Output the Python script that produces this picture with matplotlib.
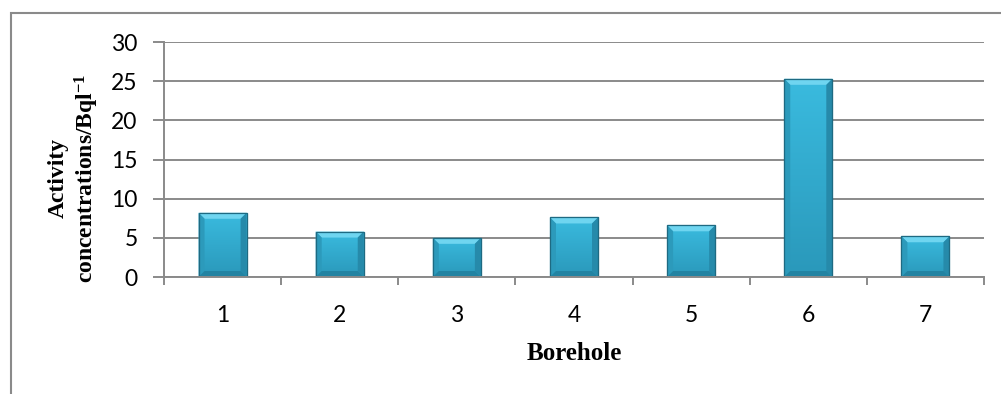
import numpy as np
import matplotlib
matplotlib.use("Agg")
import matplotlib.pyplot as plt
from matplotlib.patches import Polygon, Rectangle
from matplotlib.colors import LinearSegmentedColormap

# Activity concentration per borehole (Bq/l)
boreholes = ["1", "2", "3", "4", "5", "6", "7"]
activity = [8.2, 5.8, 5.0, 7.6, 6.6, 25.3, 5.2]
yticks = [0, 5, 10, 15, 20, 25, 30]

plt.rcParams["mathtext.fontset"] = "custom"
plt.rcParams["mathtext.rm"] = "Liberation Serif:bold"
plt.rcParams["mathtext.default"] = "rm"

W, H = 1001, 394
fig = plt.figure(figsize=(W / 100, H / 100), dpi=100)
fig.patch.set_facecolor("white")


def fy(py):
    return 1 - py / H


grey = "#8A8A8A"
ax = fig.add_axes([164 / W, fy(277), (984 - 164) / W, (277 - 42) / H])
x = np.arange(len(boreholes))
bar_w = 0.41
bars = ax.bar(x, activity, width=bar_w, color="#33B0D3", edgecolor="#1F6E86",
              linewidth=0.8, zorder=2)

# vertical gradient on each bar face, plus bevelled edges
face = LinearSegmentedColormap.from_list("face", ["#2A98BA", "#3ABBDF"])
grad = np.linspace(0, 1, 256).reshape(-1, 1)
ax.set_xlim(-0.5, len(boreholes) - 0.5)
ax.set_ylim(0, 30)
fig.canvas.draw()
bb = ax.get_window_extent()
ux = bb.width / (len(boreholes))      # px per x unit
uy = bb.height / 30.0                 # px per y unit
bev = 6.0
dx, dy = bev / ux, bev / uy
for b in bars:
    x0, w, h = b.get_x(), b.get_width(), b.get_height()
    x1 = x0 + w
    im = ax.imshow(grad, extent=[x0, x1, 0, h], origin="lower", cmap=face,
                   aspect="auto", zorder=2.1)
    im.set_clip_path(b)
    # top bevel (light)
    ax.add_patch(Polygon([[x0, h], [x1, h], [x1 - dx, h - dy], [x0 + dx, h - dy]],
                         closed=True, fc="#6FD5F0", ec="none", zorder=2.2))
    # left / right bevels
    ax.add_patch(Polygon([[x0, 0], [x0, h], [x0 + dx, h - dy], [x0 + dx, dy]],
                         closed=True, fc="#2C9ABB", ec="none", zorder=2.2))
    ax.add_patch(Polygon([[x1, 0], [x1, h], [x1 - dx, h - dy], [x1 - dx, dy]],
                         closed=True, fc="#268AAA", ec="none", zorder=2.2))
    # bottom bevel
    ax.add_patch(Polygon([[x0, 0], [x1, 0], [x1 - dx, dy], [x0 + dx, dy]],
                         closed=True, fc="#2283A2", ec="none", zorder=2.2))
    ax.add_patch(Rectangle((x0, 0), w, h, fill=False, ec="#1E6A82", lw=0.9, zorder=2.3))

ax.set_xlim(-0.5, len(boreholes) - 0.5)
ax.set_ylim(0, 30)

ax.set_yticks(yticks)
ax.yaxis.grid(True, color=grey, lw=1.4)
ax.set_axisbelow(True)
for s in ("top", "right"):
    ax.spines[s].set_visible(False)
for s in ("left", "bottom"):
    ax.spines[s].set_color(grey)
    ax.spines[s].set_linewidth(1.4)

ax.set_xticks(x, boreholes)
ax.set_xticks(np.arange(-0.5, len(boreholes)), minor=True)
ax.tick_params(axis="x", which="major", length=0, pad=20)
ax.tick_params(axis="x", which="minor", length=6, color=grey, width=1.4, direction="out")
ax.tick_params(axis="y", length=8, color=grey, width=1.4, direction="out", pad=11)
for lab in ax.get_xticklabels() + ax.get_yticklabels():
    lab.set_fontfamily("Lato")
    lab.set_fontsize(16.5)

ax.set_xlabel("Borehole", fontfamily="Liberation Serif", fontweight="bold",
              fontsize=18, labelpad=12)

fig.text(74 / W, fy(178), "Activity\nconcentrations/Bql$^{-1}$", rotation=90,
         ha="center", va="center", multialignment="center",
         fontfamily="Liberation Serif", fontweight="bold", fontsize=17)

# outer chart frame
fig.add_artist(Rectangle((10.5 / W, -0.2), 1.5, fy(13) + 0.2, transform=fig.transFigure,
                         fill=False, ec=grey, lw=1.5))

fig.savefig("out.png", dpi=100, facecolor="white")
